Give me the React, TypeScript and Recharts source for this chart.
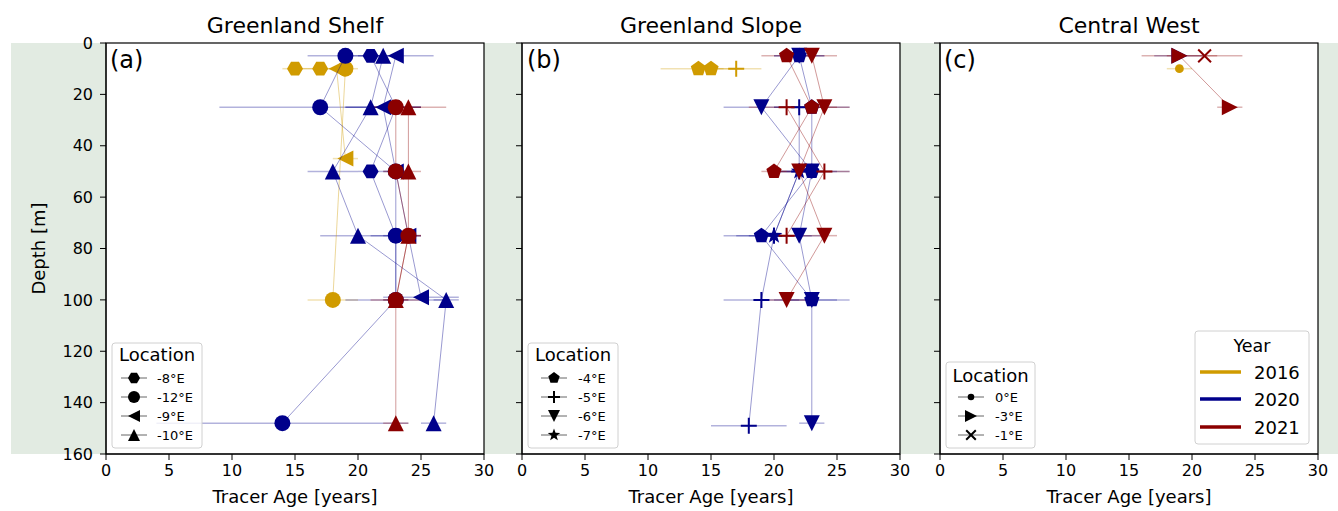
import React from 'react';
import { CartesianGrid, ErrorBar, Scatter, ScatterChart, XAxis, YAxis } from 'recharts';

// [age (years), depth (m), age error (years)]
type Pt = [number, number, number];
type Kind = 'circle' | 'dot' | 'hex' | 'pent' | 'star' | 'up' | 'down' | 'left' | 'right' | 'plus' | 'cross';

const GOLD = '#d09b00';
const BLUE = '#00008b';
const RED = '#8b0000';
const FONT = 'DejaVu Sans, sans-serif';

const ageTicks = [0, 5, 10, 15, 20, 25, 30];
const depthTicks = [0, 20, 40, 60, 80, 100, 120, 140, 160];

const years = ['2016', '2020', '2021'];
const shelfLocations = ['-8°E', '-12°E', '-9°E', '-10°E'];
const slopeLocations = ['-4°E', '-5°E', '-6°E', '-7°E'];
const westLocations = ['0°E', '-3°E', '-1°E'];

// Greenland Shelf
const shelfHex2016: Pt[] = [[15, 10, 1], [17, 10, 1]];
const shelfCircle2016: Pt[] = [[19, 10, 1], [18, 100, 2]];
const shelfLeft2016: Pt[] = [[18.3, 10, 1], [19, 45, 1]];
const shelfHex2020: Pt[] = [[21, 5, 1.5], [23, 25, 2], [21, 50, 1], [23, 75, 1], [23, 100, 1]];
const shelfCircle2020: Pt[] = [[19, 5, 3], [17, 25, 8], [23, 50, 1], [23, 75, 2], [23, 100, 4], [14, 148, 10]];
const shelfLeft2020: Pt[] = [[23, 5, 3], [22, 25, 3], [23, 50, 1], [24, 75, 1], [25, 99, 3]];
const shelfTri2020: Pt[] = [[22, 5, 1], [21, 25, 2], [18, 50, 2], [20, 75, 3], [27, 100, 1], [26, 148, 1]];
const shelfCircle2021: Pt[] = [[23, 25, 2], [23, 50, 1], [24, 75, 1], [23, 100, 2]];
const shelfTri2021: Pt[] = [[24, 25, 3], [24, 50, 1], [24, 75, 1], [23, 100, 1], [23, 148, 1]];

// Greenland Slope
const slopePent2016: Pt[] = [[14, 10, 3], [15, 10, 1]];
const slopePlus2016: Pt[] = [[17, 10, 2]];
const slopePent2020: Pt[] = [[22, 5, 2], [23, 25, 3], [23, 50, 3], [19, 75, 3], [23, 100, 3]];
const slopePlus2020: Pt[] = [[22, 25, 2], [22, 50, 2], [20, 75, 3], [19, 100, 3], [18, 149, 3]];
const slopeDown2020: Pt[] = [[22, 5, 2], [19, 25, 3], [23, 50, 2], [22, 75, 2], [23, 100, 2], [23, 148, 1]];
const slopeStar2020: Pt[] = [[22, 50, 2], [20, 75, 2]];
const slopePent2021: Pt[] = [[21, 5, 2], [23, 25, 2], [20, 50, 1]];
const slopePlus2021: Pt[] = [[21, 25, 3], [24, 50, 2], [21, 75, 2]];
const slopeDown2021: Pt[] = [[23, 5, 2], [24, 25, 2], [22, 50, 2], [24, 75, 1], [21, 100, 2]];

// Central West
const westDot2016: Pt[] = [[19, 10, 1]];
const westRight2020: Pt[] = [[19, 5, 2]];
const westRight2021: Pt[] = [[19, 5, 3], [23, 25, 1]];
const westCross2021: Pt[] = [[21, 5, 3]];

interface Series {
  rows: Pt[];
  kind: Kind;
  color: string;
}

const shelfSeries: Series[] = [
  { rows: shelfHex2016, kind: 'hex', color: GOLD },
  { rows: shelfCircle2016, kind: 'circle', color: GOLD },
  { rows: shelfLeft2016, kind: 'left', color: GOLD },
  { rows: shelfHex2020, kind: 'hex', color: BLUE },
  { rows: shelfCircle2020, kind: 'circle', color: BLUE },
  { rows: shelfLeft2020, kind: 'left', color: BLUE },
  { rows: shelfTri2020, kind: 'up', color: BLUE },
  { rows: shelfCircle2021, kind: 'circle', color: RED },
  { rows: shelfTri2021, kind: 'up', color: RED },
];

const slopeSeries: Series[] = [
  { rows: slopePent2016, kind: 'pent', color: GOLD },
  { rows: slopePlus2016, kind: 'plus', color: GOLD },
  { rows: slopePent2020, kind: 'pent', color: BLUE },
  { rows: slopePlus2020, kind: 'plus', color: BLUE },
  { rows: slopeDown2020, kind: 'down', color: BLUE },
  { rows: slopeStar2020, kind: 'star', color: BLUE },
  { rows: slopePent2021, kind: 'pent', color: RED },
  { rows: slopePlus2021, kind: 'plus', color: RED },
  { rows: slopeDown2021, kind: 'down', color: RED },
];

const westSeries: Series[] = [
  { rows: westDot2016, kind: 'dot', color: GOLD },
  { rows: westRight2020, kind: 'right', color: BLUE },
  { rows: westRight2021, kind: 'right', color: RED },
  { rows: westCross2021, kind: 'cross', color: RED },
];

const toRows = (pts: Pt[]) => pts.map(([age, depth, err]) => ({ age, depth, err }));

function polygon(cx: number, cy: number, r: number, n: number, start: number) {
  const pts: string[] = [];
  for (let i = 0; i < n; i++) {
    const a = start + (i * 2 * Math.PI) / n;
    pts.push(`${cx + r * Math.cos(a)},${cy + r * Math.sin(a)}`);
  }
  return pts.join(' ');
}

function starPoints(cx: number, cy: number, r: number) {
  const pts: string[] = [];
  for (let i = 0; i < 10; i++) {
    const a = -Math.PI / 2 + (i * Math.PI) / 5;
    const rr = i % 2 === 0 ? r : r * 0.4;
    pts.push(`${cx + rr * Math.cos(a)},${cy + rr * Math.sin(a)}`);
  }
  return pts.join(' ');
}

function Marker({ kind, cx, cy, size, color }: { kind: Kind; cx: number; cy: number; size: number; color: string }) {
  const h = size / 2;
  switch (kind) {
    case 'circle':
      return <circle cx={cx} cy={cy} r={h} fill={color} />;
    case 'dot':
      return <circle cx={cx} cy={cy} r={h * 0.55} fill={color} />;
    case 'hex':
      return <polygon points={polygon(cx, cy, h, 6, 0)} fill={color} />;
    case 'pent':
      return <polygon points={polygon(cx, cy, h, 5, -Math.PI / 2)} fill={color} />;
    case 'star':
      return <polygon points={starPoints(cx, cy, h * 1.1)} fill={color} />;
    case 'up':
      return <polygon points={`${cx},${cy - h} ${cx - h},${cy + h} ${cx + h},${cy + h}`} fill={color} />;
    case 'down':
      return <polygon points={`${cx},${cy + h} ${cx - h},${cy - h} ${cx + h},${cy - h}`} fill={color} />;
    case 'left':
      return <polygon points={`${cx - h},${cy} ${cx + h},${cy - h} ${cx + h},${cy + h}`} fill={color} />;
    case 'right':
      return <polygon points={`${cx + h},${cy} ${cx - h},${cy - h} ${cx - h},${cy + h}`} fill={color} />;
    case 'plus':
      return (
        <path d={`M${cx - h},${cy}H${cx + h}M${cx},${cy - h}V${cy + h}`} stroke={color} strokeWidth={2} fill="none" />
      );
    case 'cross': {
      const k = h * 0.8;
      return (
        <path
          d={`M${cx - k},${cy - k}L${cx + k},${cy + k}M${cx - k},${cy + k}L${cx + k},${cy - k}`}
          stroke={color}
          strokeWidth={2}
          fill="none"
        />
      );
    }
    default:
      return null;
  }
}

const tickStyle = { fontSize: 16, fill: '#000', fontFamily: FONT };

function Panel({ left, series, depthLabel }: { left: number; series: Series[]; depthLabel: boolean }) {
  return (
    <div style={{ position: 'absolute', left, top: 0 }}>
      <ScatterChart width={500} height={511} margin={{ top: 43, right: 16, bottom: 7, left: 26 }}>
        <CartesianGrid fill="#fff" horizontal={false} vertical={false} />
        <XAxis
          type="number"
          dataKey="age"
          domain={[0, 30]}
          ticks={ageTicks}
          height={50}
          tickSize={6}
          tickMargin={5}
          tick={tickStyle}
          stroke="#000"
          label={{ value: 'Tracer Age [years]', position: 'insideBottom', offset: 1, fontSize: 18, fill: '#000', fontFamily: FONT }}
        />
        <YAxis
          type="number"
          dataKey="depth"
          domain={[0, 160]}
          ticks={depthTicks}
          reversed
          width={80}
          tickSize={6}
          tickMargin={7}
          tick={tickStyle}
          stroke="#000"
          tickFormatter={depthLabel ? undefined : () => ''}
          label={
            depthLabel
              ? { value: 'Depth [m]', angle: -90, position: 'insideLeft', offset: 13, fontSize: 18, fill: '#000', fontFamily: FONT, style: { textAnchor: 'middle' } }
              : undefined
          }
        />
        {series.map((s, i) => (
          <Scatter
            key={i}
            data={toRows(s.rows)}
            fill={s.color}
            line={{ stroke: s.color, strokeWidth: 0.8, strokeOpacity: 0.5 }}
            shape={(p: any) => <Marker kind={s.kind} cx={p.cx} cy={p.cy} size={16} color={s.color} />}
            isAnimationActive={false}
          >
            <ErrorBar dataKey="err" direction="x" width={0} stroke={s.color} strokeOpacity={0.3} strokeWidth={1.5} />
          </Scatter>
        ))}
      </ScatterChart>
    </div>
  );
}

interface LegendBox {
  x: number;
  y: number;
  w: number;
  h: number;
  titleY: number;
}

function LocationLegend({ box, labels, kinds, rowYs, markerX, textX, markerSize }: {
  box: LegendBox;
  labels: string[];
  kinds: Kind[];
  rowYs: number[];
  markerX: number;
  textX: number;
  markerSize: number;
}) {
  return (
    <g>
      <rect x={box.x} y={box.y} width={box.w} height={box.h} rx={3} fill="#fff" fillOpacity={0.8} stroke="#d0d0d0" />
      <text x={box.x + box.w / 2} y={box.titleY} textAnchor="middle" fontSize={18} fontFamily={FONT}>
        Location
      </text>
      {labels.map((label, i) => (
        <g key={label}>
          <line x1={markerX - 13} x2={markerX + 13} y1={rowYs[i]} y2={rowYs[i]} stroke="#000" strokeOpacity={0.6} />
          <Marker kind={kinds[i]} cx={markerX} cy={rowYs[i]} size={markerSize} color="#000" />
          <text x={textX} y={rowYs[i] + 4.7} fontSize={13} fontFamily={FONT}>
            {label}
          </text>
        </g>
      ))}
    </g>
  );
}

// plot frames (spines) for the three panels
const frames = [106, 522, 940];

export default function App() {
  const yearColors = [GOLD, BLUE, RED];
  const yearRows = [372, 399, 427];
  return (
    <div style={{ position: 'absolute', left: 0, top: 0, width: 1338, height: 511, background: '#fff', fontFamily: FONT }}>
      <div style={{ position: 'absolute', left: 11, top: 43, width: 1327, height: 411, background: '#e2ebe2' }} />
      <Panel left={0} series={shelfSeries} depthLabel />
      <Panel left={416} series={slopeSeries} depthLabel={false} />
      <Panel left={834} series={westSeries} depthLabel={false} />
      <svg width={1338} height={511} style={{ position: 'absolute', left: 0, top: 0, pointerEvents: 'none' }}>
        {frames.map((x) => (
          <rect key={x} x={x} y={43} width={378} height={411} fill="none" stroke="#000" strokeWidth={1.2} />
        ))}
        <g fontFamily={FONT} fill="#000">
          <text x={295} y={33} textAnchor="middle" fontSize={22}>Greenland Shelf</text>
          <text x={711} y={33} textAnchor="middle" fontSize={22}>Greenland Slope</text>
          <text x={1129} y={33} textAnchor="middle" fontSize={22}>Central West</text>
          <text x={110} y={68} fontSize={24}>(a)</text>
          <text x={527} y={68} fontSize={24}>(b)</text>
          <text x={944} y={68} fontSize={24}>(c)</text>
        </g>
        <LocationLegend
          box={{ x: 112, y: 343, w: 90, h: 105, titleY: 361 }}
          labels={shelfLocations}
          kinds={['hex', 'circle', 'left', 'up']}
          rowYs={[378, 397, 416, 435]}
          markerX={134}
          textX={157}
          markerSize={12}
        />
        <LocationLegend
          box={{ x: 528, y: 343, w: 90, h: 105, titleY: 361 }}
          labels={slopeLocations}
          kinds={['pent', 'plus', 'down', 'star']}
          rowYs={[378, 397, 416, 435]}
          markerX={554}
          textX={578}
          markerSize={12}
        />
        <LocationLegend
          box={{ x: 946, y: 362, w: 89, h: 86, titleY: 382 }}
          labels={westLocations}
          kinds={['dot', 'right', 'cross']}
          rowYs={[397, 416, 435]}
          markerX={971}
          textX={995}
          markerSize={12}
        />
        <g>
          <rect x={1195} y={331} width={114} height={113} rx={3} fill="#fff" fillOpacity={0.8} stroke="#d0d0d0" />
          <text x={1252} y={352} textAnchor="middle" fontSize={17.5} fontFamily={FONT}>Year</text>
          {years.map((y, i) => (
            <g key={y}>
              <line x1={1200} x2={1241} y1={yearRows[i]} y2={yearRows[i]} stroke={yearColors[i]} strokeWidth={3.5} />
              <text x={1254} y={yearRows[i] + 6.5} fontSize={18} fontFamily={FONT}>{y}</text>
            </g>
          ))}
        </g>
      </svg>
    </div>
  );
}
